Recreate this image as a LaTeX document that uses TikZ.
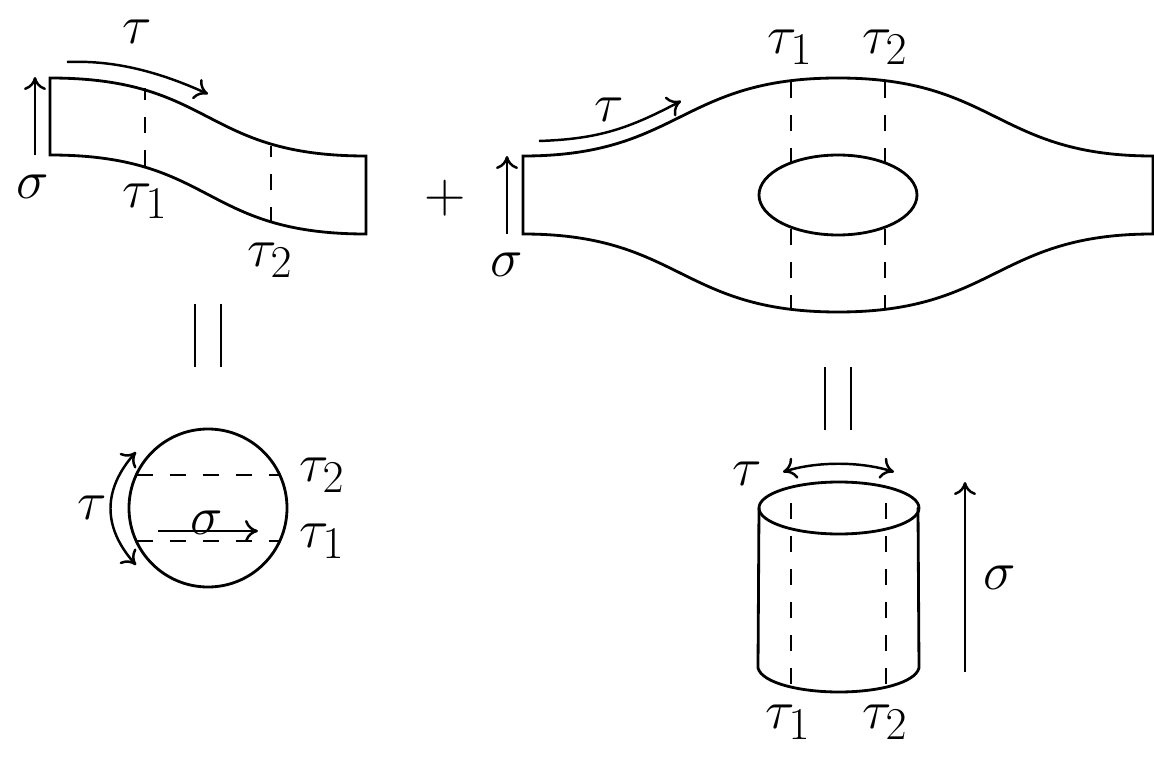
\documentclass[tikz,border=0pt]{standalone}
\usetikzlibrary{arrows.meta,bending}
\tikzset{
  lab/.style={inner sep=0pt,scale=1.25,font=\Huge},
  ln/.style={line width=1.6pt,line cap=round},
  dsh/.style={line width=1.4pt,dash pattern=on 0.33cm off 0.33cm},
  hd/.tip={Computer Modern Rightarrow[length=2.6mm,width=4.4mm]},
  arr/.style={line width=1.4pt,-{hd}},
  arrd/.style={line width=1.4pt,{hd}-{hd}},
  eqb/.style={line width=1.4pt},
}
\begin{document}
\begin{tikzpicture}[x=0.02cm,y=-0.02cm]
\useasboundingbox (0,0) rectangle (1154,757);
% Left band
\draw[ln] (366,156) .. controls (201,156) and (215,78) .. (50,78) -- (50,155)
  .. controls (215,155) and (201,234) .. (366,234) -- cycle;
\draw[dsh] (145,166) -- (145,88);
\draw[dsh] (271,223) -- (271,146);
\coordinate (a1) at (67,62); \coordinate (a2) at (208,94);
\draw[arr] (a1) .. controls (115,60) and (160,72) .. (a2);
\coordinate (b1) at (35,155); \coordinate (b2) at (35,77);
\draw[arr] (b1) -- (b2);
\node[lab] (t0) at (137,32) {$\tau$};
\node[lab] (s0) at (33,187) {$\sigma$};
\node[lab] (t01) at (145,201) {$\tau_1$};
\node[lab] (t02) at (270,260) {$\tau_2$};
% Plus
\node[lab,scale=1.05] (plus) at (445,198) {$+$};
% Big band
\draw[ln] (523,156) .. controls (680,156) and (680,78) .. (838,78)
  .. controls (996,78) and (996,156) .. (1153,156) -- (1153,234)
  .. controls (996,234) and (996,312) .. (838,312)
  .. controls (680,312) and (680,234) .. (523,234) -- cycle;
\draw[ln] (838,195) ellipse [x radius=79,y radius=40];
\draw[dsh] (791,82) -- (791,162);
\draw[dsh] (885,82) -- (885,162);
\draw[dsh] (791,229) -- (791,309);
\draw[dsh] (885,229) -- (885,309);
\coordinate (c1) at (539,141); \coordinate (c2) at (681,101);
\draw[arr] (c1) .. controls (600,139) and (630,128) .. (c2);
\coordinate (d1) at (507,234); \coordinate (d2) at (507,156);
\draw[arr] (d1) -- (d2);
\node[lab] (t1) at (609,110) {$\tau$};
\node[lab] (s1) at (507,265) {$\sigma$};
\node[lab] (t11) at (790,47) {$\tau_1$};
\node[lab] (t12) at (885,47) {$\tau_2$};
% Equal signs
\draw[eqb] (195,304) -- (195,367);
\draw[eqb] (221,304) -- (221,367);
\draw[eqb] (825,367) -- (825,430);
\draw[eqb] (851,367) -- (851,430);
% Circle
\draw[ln] (208,508) circle [radius=79];
\draw[dsh] (137,475) -- (281,475);
\draw[dsh] (137,541) -- (281,541);
\coordinate (e1) at (136,452); \coordinate (e2) at (136,565);
\draw[arrd] (e2) .. controls (102,528) and (102,489) .. (e1);
\coordinate (f1) at (158,531); \coordinate (f2) at (258,531);
\draw[arr] (f1) -- (f2);
\node[lab] (t2) at (92,508) {$\tau$};
\node[lab] (s2) at (207,523) {$\sigma$};
\node[lab] (t21) at (322,541) {$\tau_1$};
\node[lab] (t22) at (322,475) {$\tau_2$};
% Cylinder
\draw[ln] (839,508) ellipse [x radius=80,y radius=26];
\draw[ln] (759,508) -- (758,668) .. controls (762,683) and (800,692) .. (839,692)
  .. controls (878,692) and (915,683) .. (919,668) -- (918,508);
\draw[dsh] (791,503) -- (791,686);
\draw[dsh] (886,503) -- (886,686);
\coordinate (g1) at (783,472); \coordinate (g2) at (894,472);
\draw[arrd] (g1) .. controls (815,461) and (862,461) .. (g2);
\coordinate (h1) at (965,672); \coordinate (h2) at (965,482);
\draw[arr] (h1) -- (h2);
\node[lab] (t3) at (747,474) {$\tau$};
\node[lab] (s3) at (1000,578) {$\sigma$};
\node[lab] (t31) at (788,722) {$\tau_1$};
\node[lab] (t32) at (885,722) {$\tau_2$};
\end{tikzpicture}
\end{document}
